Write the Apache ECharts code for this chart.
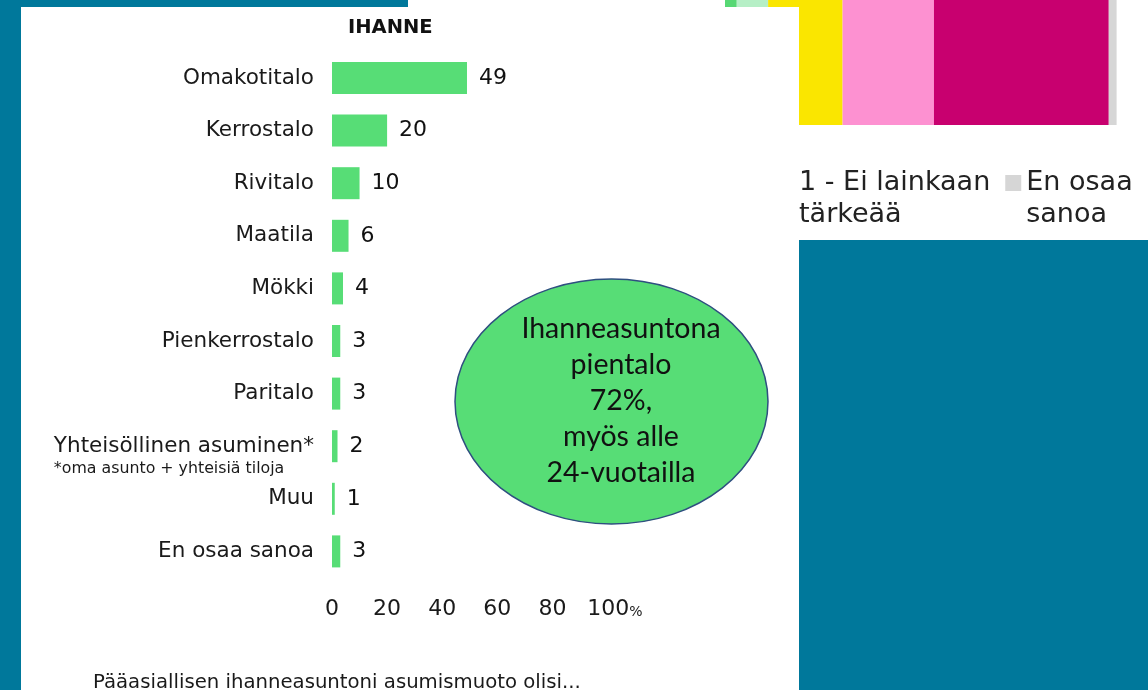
<!DOCTYPE html>
<html>
<head>
<meta charset="utf-8">
<script src="https://cdn.jsdelivr.net/npm/echarts@6/dist/echarts.min.js"></script>
<style>
  html, body { margin: 0; padding: 0; }
  body { width: 1148px; height: 690px; background: #00789b; position: relative; overflow: hidden; }
  #back { position: absolute; left: 408px; top: 0; width: 740px; height: 240px; background: #fff; }
  #main { position: absolute; left: 21px; top: 7px; width: 778px; height: 683px; background: #fff; }
</style>
</head>
<body>
<div id="back"></div>
<div id="main"></div>
<script>
// main chart: ideal housing type, %
const categories = [
  'Omakotitalo', 'Kerrostalo', 'Rivitalo', 'Maatila', 'Mökki',
  'Pienkerrostalo', 'Paritalo', 'Yhteisöllinen asuminen*', 'Muu', 'En osaa sanoa'
];
const values = [49, 20, 10, 6, 4, 3, 3, 2, 1, 3];
const xTicks = [0, 20, 40, 60, 80, 100];
const note = '*oma asunto + yhteisiä tiloja';

// partly hidden chart behind (stacked importance bar)
const scaleNames = ['5 - Erittäin tärkeää', '4', '3', '2', '1 - Ei lainkaan\ntärkeää', 'En osaa\nsanoa'];
const scaleValues = [3, 8, 19, 23.3, 44.6, 2];
const scaleColors = ['#57d874', '#b6efc6', '#fae600', '#fd91d1', '#c8006f', '#d6d6d6'];

const font = 'DejaVu Sans';
const green = '#57dd76';

// ---- back chart ----
const back = echarts.init(document.getElementById('back'));
back.setOption({
  animation: false,
  grid: { left: 317, top: 0, width: 392, height: 125 },
  xAxis: { type: 'value', min: 0, max: 100, show: false },
  yAxis: { type: 'category', data: ['k'], show: false },
  legend: {
    data: scaleNames.slice(4),
    left: 370,
    top: 135,
    padding: 0,
    itemWidth: 16,
    itemHeight: 16,
    itemGap: 15,
    icon: 'rect',
    // blank first line keeps the first text line level with the icon
    formatter: n => ' \n' + n,
    textStyle: { fontFamily: font, fontSize: 27, color: '#222', lineHeight: 32 }
  },
  series: scaleNames.map((n, i) => ({
    name: n,
    type: 'bar',
    stack: 'all',
    barWidth: 125,
    data: [scaleValues[i]],
    itemStyle: { color: scaleColors[i] }
  }))
});

// ---- main chart ----
const chart = echarts.init(document.getElementById('main'));
chart.setOption({
  animation: false,
  grid: { left: 311, top: 44.7, width: 275.5, height: 526 },
  xAxis: {
    type: 'value',
    min: xTicks[0],
    max: xTicks[xTicks.length - 1],
    interval: xTicks[1] - xTicks[0],
    axisLine: { show: false },
    axisTick: { show: false },
    splitLine: { show: false },
    axisLabel: {
      margin: 21,
      fontFamily: font,
      fontSize: 22,
      color: '#1a1a1a',
      formatter: v => v === 100 ? '{s|}100{p|%}' : String(v),
      rich: {
        s: { width: 15 },
        p: { fontFamily: font, fontSize: 14, color: '#1a1a1a', padding: [5, 0, 0, 0] }
      }
    }
  },
  yAxis: {
    type: 'category',
    inverse: true,
    data: categories,
    axisLine: { show: false },
    axisTick: { show: false },
    axisLabel: {
      margin: 18,
      fontFamily: font,
      fontSize: 21.5,
      color: '#1a1a1a',
      formatter: v => v === categories[7] ? '{e| }\n{a|' + v + '}\n{b|' + note + '}' : v,
      rich: {
        e: { fontSize: 14, lineHeight: 20 },
        a: { fontFamily: font, fontSize: 21.5, lineHeight: 26, color: '#1a1a1a' },
        b: { fontFamily: font, fontSize: 15.8, lineHeight: 20, color: '#1a1a1a', align: 'left' }
      }
    }
  },
  series: [{
    type: 'bar',
    data: values,
    barWidth: 32,
    itemStyle: { color: green },
    label: {
      show: true,
      position: 'right',
      distance: 12,
      fontFamily: font,
      fontSize: 22,
      color: '#111'
    }
  }],
  graphic: [
    {
      type: 'text', left: 327, top: 11,
      style: { text: 'IHANNE', font: 'bold 19.5px "DejaVu Sans"', fill: '#111' }
    },
    {
      type: 'ellipse',
      shape: { cx: 590.5, cy: 394.5, rx: 156.5, ry: 122.5 },
      style: { fill: green, stroke: '#2f4f80', lineWidth: 1.5 }
    },
    {
      type: 'text', x: 600, y: 394,
      style: {
        text: 'Ihanneasuntona\npientalo\n72%,\nmyös alle\n24-vuotailla',
        font: '28.5px Lato', lineHeight: 36, fill: '#111',
        align: 'center', verticalAlign: 'middle'
      }
    },
    {
      type: 'text', x: 72, y: 676,
      style: {
        text: 'Pääasiallisen ihanneasuntoni asumismuoto olisi...',
        font: '19.7px "DejaVu Sans"', fill: '#1a1a1a', verticalAlign: 'middle'
      }
    }
  ]
});
</script>
</body>
</html>
